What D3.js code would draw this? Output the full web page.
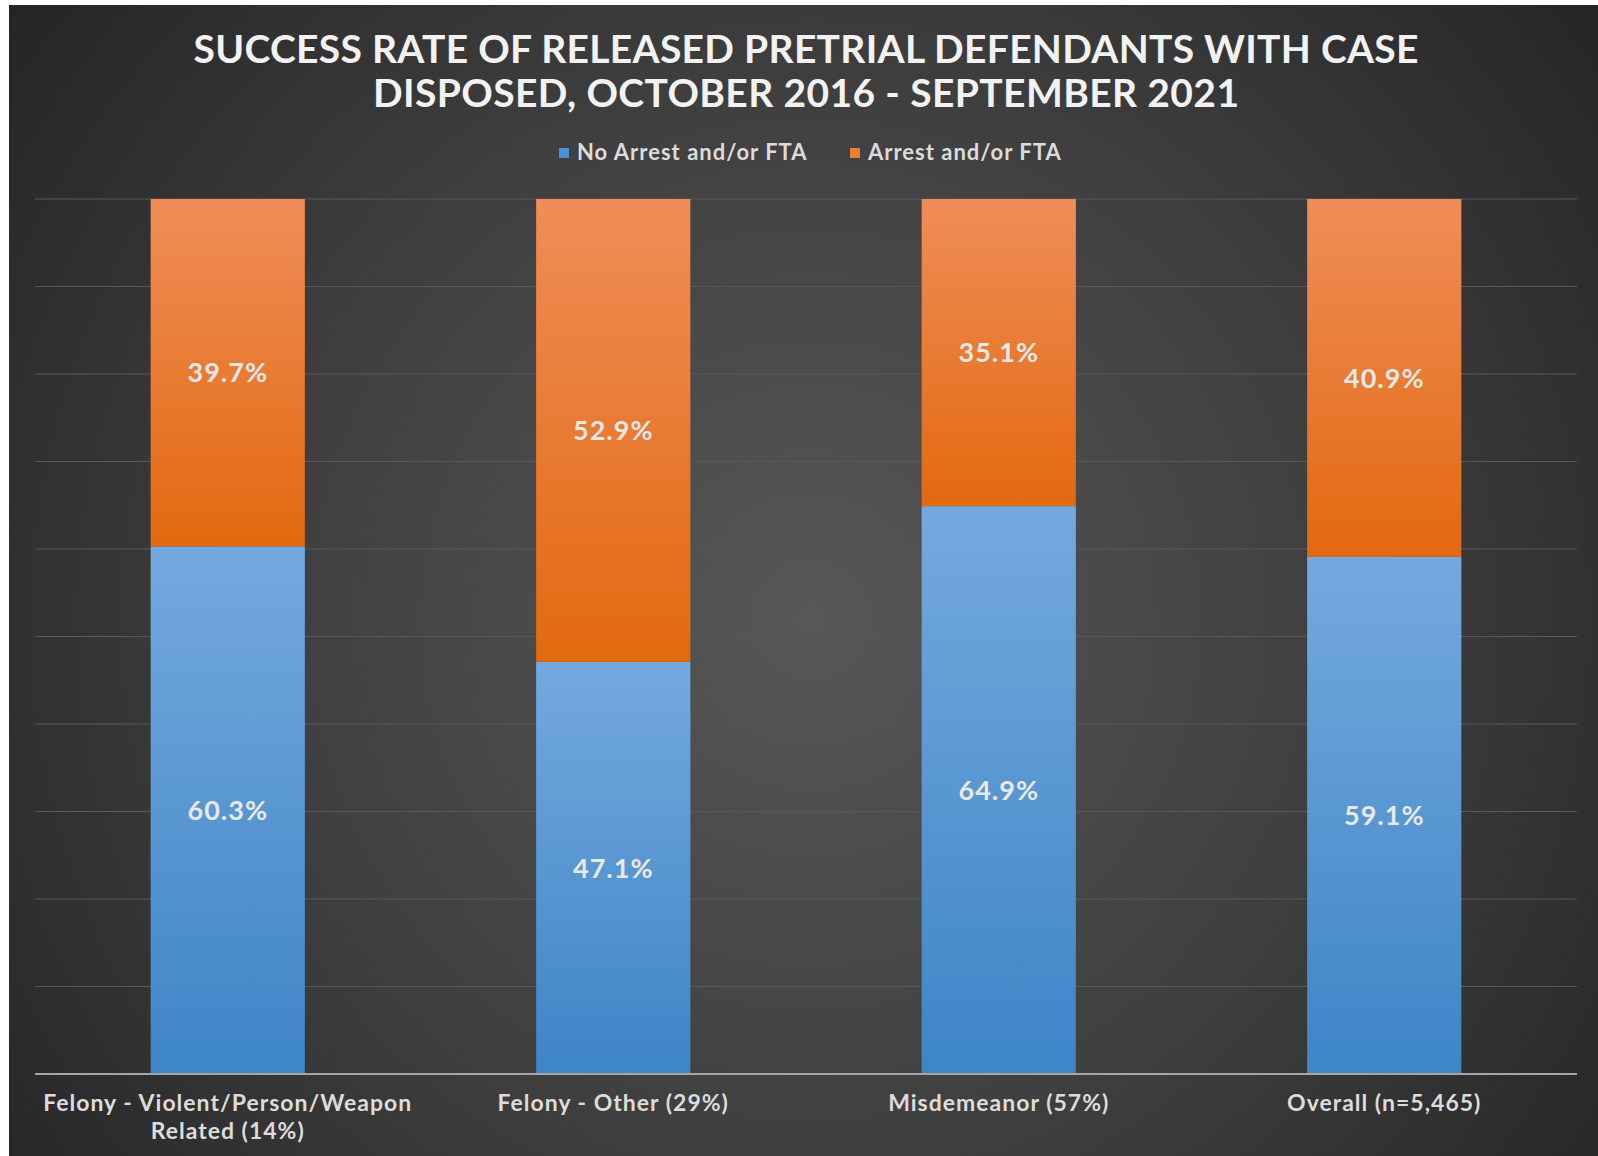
<!DOCTYPE html>
<html>
<head>
<meta charset="utf-8">
<script src="https://cdn.jsdelivr.net/npm/d3@7"></script>
<style>
  html, body { margin: 0; padding: 0; background: #ffffff; }
  svg { display: block; }
</style>
</head>
<body>
<svg id="chart" width="1598" height="1156"></svg>
<script>
// ---- Data ----
const categories = [
  ["Felony - Violent/Person/Weapon", "Related (14%)"],
  ["Felony - Other (29%)"],
  ["Misdemeanor (57%)"],
  ["Overall (n=5,465)"]
];
const seriesNames = ["No Arrest and/or FTA", "Arrest and/or FTA"];
const noArrest = [60.3, 47.1, 64.9, 59.1];
const arrest = [39.7, 52.9, 35.1, 40.9];
const yTicks = [0, 10, 20, 30, 40, 50, 60, 70, 80, 90, 100];
const titleLines = [
  "SUCCESS RATE OF RELEASED PRETRIAL DEFENDANTS WITH CASE",
  "DISPOSED, OCTOBER 2016 - SEPTEMBER 2021"
];

// ---- Layout ----
const W = 1598, H = 1156;
const plot = { left: 35, right: 1577, top: 199, bottom: 1074 };
const font = "Lato, 'Open Sans', sans-serif";

const svg = d3.select("#chart");
const defs = svg.append("defs");

// Background radial gradient
const bg = defs.append("radialGradient").attr("id", "bg")
  .attr("gradientUnits", "userSpaceOnUse")
  .attr("cx", 810).attr("cy", 620).attr("r", 1000);
bg.append("stop").attr("offset", "0%").attr("stop-color", "#575757");
bg.append("stop").attr("offset", "55%").attr("stop-color", "#3e3e3e");
bg.append("stop").attr("offset", "100%").attr("stop-color", "#252525");

const gBlue = defs.append("linearGradient").attr("id", "gBlue")
  .attr("x1", 0).attr("y1", 0).attr("x2", 0).attr("y2", 1);
gBlue.append("stop").attr("offset", "0%").attr("stop-color", "#74a9de");
gBlue.append("stop").attr("offset", "100%").attr("stop-color", "#3d85c6");
const gOrange = defs.append("linearGradient").attr("id", "gOrange")
  .attr("x1", 0).attr("y1", 0).attr("x2", 0).attr("y2", 1);
gOrange.append("stop").attr("offset", "0%").attr("stop-color", "#f08d58");
gOrange.append("stop").attr("offset", "100%").attr("stop-color", "#e2690f");

// background panel (white margin at top and left)
svg.append("rect").attr("x", 0).attr("y", 0).attr("width", W).attr("height", H).attr("fill", "#ffffff");
svg.append("rect").attr("x", 9).attr("y", 5).attr("width", W - 9).attr("height", H - 5).attr("fill", "url(#bg)");

// Scales
const x = d3.scaleBand().domain(d3.range(categories.length))
  .range([plot.left, plot.right]).paddingInner(0.6).paddingOuter(0.3);
const y = d3.scaleLinear().domain([0, 100]).range([plot.bottom, plot.top]);

// Gridlines
svg.append("g").selectAll("line").data(yTicks.filter(d => d > 0)).join("line")
  .attr("x1", plot.left).attr("x2", plot.right)
  .attr("y1", d => y(d)).attr("y2", d => y(d))
  .attr("stroke", "#585858").attr("stroke-width", 1.2);

// Stacked data
const rows = categories.map((c, i) => ({ i, no: noArrest[i], yes: arrest[i] }));
const stack = d3.stack().keys(["no", "yes"])(rows);
const fills = ["url(#gBlue)", "url(#gOrange)"];

const gBars = svg.append("g");
stack.forEach((layer, k) => {
  gBars.selectAll(null).data(layer).join("rect")
    .attr("x", d => x(d.data.i))
    .attr("width", x.bandwidth())
    .attr("y", d => y(d[1]))
    .attr("height", d => y(d[0]) - y(d[1]))
    .attr("fill", fills[k]);
});

// Value labels
stack.forEach((layer, k) => {
  svg.append("g").selectAll("text").data(layer).join("text")
    .attr("x", d => x(d.data.i) + x.bandwidth() / 2)
    .attr("y", d => (y(d[0]) + y(d[1])) / 2)
    .attr("dy", "0.36em")
    .attr("text-anchor", "middle")
    .attr("font-family", font).attr("font-weight", "bold").attr("font-size", 27)
    .attr("letter-spacing", 1)
    .attr("fill", "#e8e8e8")
    .text(d => d3.format(".1f")(d[1] - d[0]) + "%");
});

// X axis line
svg.append("line").attr("x1", plot.left).attr("x2", plot.right)
  .attr("y1", plot.bottom).attr("y2", plot.bottom)
  .attr("stroke", "#a6a6a6").attr("stroke-width", 2);

// Category labels
const gCat = svg.append("g");
categories.forEach((lines, i) => {
  const t = gCat.append("text")
    .attr("x", x(i) + x.bandwidth() / 2)
    .attr("y", 1111)
    .attr("text-anchor", "middle")
    .attr("font-family", font).attr("font-weight", "bold").attr("font-size", 23)
    .attr("letter-spacing", 1)
    .attr("fill", "#dcdcdc");
  lines.forEach((ln, j) => {
    t.append("tspan").attr("x", x(i) + x.bandwidth() / 2).attr("dy", j === 0 ? 0 : 28).text(ln);
  });
});

// Title
const titleWidths = [1225, 866];
titleLines.forEach((ln, j) => {
  svg.append("text")
    .attr("x", 806).attr("y", j === 0 ? 63 : 107)
    .attr("text-anchor", "middle")
    .attr("font-family", font).attr("font-weight", "bold").attr("font-size", 39)
    .attr("fill", "#f2f2f2")
    .attr("textLength", titleWidths[j]).attr("lengthAdjust", "spacing")
    .text(ln);
});

// Legend
const legendColors = ["#4a90d9", "#ed7d31"];
const legendX = [559, 850];
const gLeg = svg.append("g");
seriesNames.forEach((n, k) => {
  gLeg.append("rect").attr("x", legendX[k]).attr("y", 148).attr("width", 10).attr("height", 10)
    .attr("fill", legendColors[k]);
  gLeg.append("text").attr("x", legendX[k] + 18).attr("y", 160)
    .attr("font-family", font).attr("font-weight", "bold").attr("font-size", 22)
    .attr("letter-spacing", 1)
    .attr("fill", "#dcdcdc").text(n);
});
</script>
</body>
</html>
